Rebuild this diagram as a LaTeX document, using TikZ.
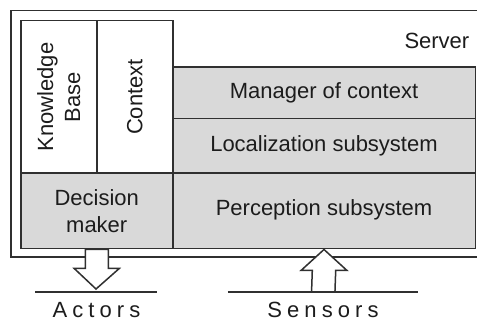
\documentclass[tikz,border=0pt]{standalone}
\usepackage{fontspec}
\setmainfont{Liberation Sans}
\usetikzlibrary{calc}
\definecolor{edge}{HTML}{303030}
\definecolor{panel}{HTML}{D9D9D9}
\definecolor{ink}{HTML}{1C1C1C}
\begin{document}
\begin{tikzpicture}[x=1pt,y=-1pt,
  every node/.style={font=\fontsize{22}{27}\selectfont, text=ink},
  frame/.style={draw=edge, line width=1.5pt, inner sep=0pt, anchor=north west},
  whitebox/.style={frame, fill=white},
  greybox/.style={frame, fill=panel},
  label/.style={inner sep=0pt, align=center},
  spaced/.style={inner sep=0pt, font=\fontsize{22}{26}\selectfont\addfontfeature{LetterSpace=23}},
  baseline rule/.style={draw=edge, line width=1.5pt},
  hollow arrow/.style={draw=edge, line width=1.5pt, fill=white, line join=miter}
]
\useasboundingbox[fill=white] (0,0) rectangle (477,323);
\clip (0,0) rectangle (477,323);

% server enclosure (runs off the right edge)
\node[frame, minimum width=480, minimum height=246.5] (server) at (10,10) {};
\node[label, anchor=base east] (servertext) at (469.5,48.5) {Server};

% storage columns
\node[whitebox, minimum width=76, minimum height=152.5] (kb) at (20,20) {};
\node[whitebox, minimum width=76, minimum height=152.5] (ctx) at (96,20) {};
\node[label, rotate=90] (kbtext) at (kb.center) {Knowledge\\Base};
\node[label, rotate=90] (ctxtext) at (ctx.center) {Context};

% processing layers
\node[greybox, minimum width=302.5, minimum height=51.5] (mgr) at (172,66.5) {};
\node[label] at (mgr.center) {Manager of context};
\node[greybox, minimum width=302.5, minimum height=54.5] (loc) at (172,118) {};
\node[label] at (loc.center) {Localization subsystem};
\node[greybox, minimum width=152, minimum height=75.5] (dec) at (20,172.5) {};
\node[label] at (dec.center) {Decision\\maker};
\node[greybox, minimum width=302.5, minimum height=75.5] (per) at (172,172.5) {};
\node[label] at ($(per.center)+(0,-1.5)$) {Perception subsystem};

% outputs and inputs
\coordinate (actline) at (96,292);
\coordinate (sensline) at (323.25,292);
\draw[baseline rule] ($(actline)+(-61,0)$) -- ($(actline)+(61,0)$);
\draw[baseline rule] ($(sensline)+(-95.5,0)$) -- ($(sensline)+(95,0)$);
\node[spaced] (actors) at (96.5,310) {Actors};
\node[spaced] (sensors) at (323,310) {Sensors};

% decision maker -> actors
\draw[hollow arrow]
  ($(dec.south)+(-11.5,0)$) -- ($(dec.south)+(-11.5,19)$)
  -- ($(dec.south)+(-22.5,19)$) -- ($(actline)+(0,-3)$)
  -- ($(dec.south)+(22.5,19)$) -- ($(dec.south)+(11.5,19)$)
  -- ($(dec.south)+(11.5,0)$) -- cycle;

% sensors -> perception subsystem
\draw[hollow arrow]
  ($(sensline)+(-11.7,0)$) -- ($(per.south)+(-11.7,21)$)
  -- ($(per.south)+(-23,21)$) -- (per.south)
  -- ($(per.south)+(23,21)$) -- ($(per.south)+(11.7,21)$)
  -- ($(sensline)+(11.7,0)$) -- cycle;
\end{tikzpicture}
\end{document}
